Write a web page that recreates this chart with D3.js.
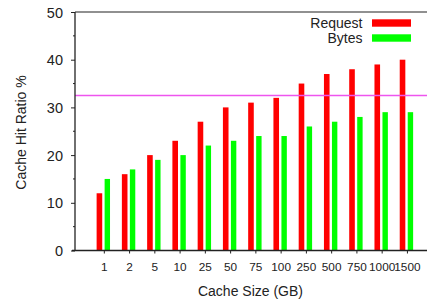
<!DOCTYPE html>
<html><head><meta charset="utf-8">
<script src="https://cdn.jsdelivr.net/npm/d3@7"></script>
<style>
html,body{margin:0;padding:0;background:#fff;}
svg{display:block;font-family:"Liberation Sans",Arial,Helvetica,sans-serif;}
</style></head>
<body>
<script>
const categories = ["1","2","5","10","25","50","75","100","250","500","750","1000","1500"];
const requestValues = [12,16,20,23,27,30,31,32,35,37,38,39,40];
const bytesValues = [15,17,19,20,22,23,24,24,26,27,28,29,29];
const yTicks = [0,10,20,30,40,50];
const yMinorTicks = [5,15,25,35,45];
const referenceLine = 32.5;
const seriesNames = ["Request","Bytes"];
const seriesColors = ["#ff0000","#00ff00"];

const W = 427, H = 300;
const svg = d3.select("body").append("svg").attr("width", W).attr("height", H);

const x = d3.scaleLinear().domain([-1.125, 12.85]).range([75, 428]);
const y = d3.scaleLinear().domain([0, 50]).range([250.5, 12]);

const axisColor = "#222";

// bars
const idx = d3.range(categories.length);
svg.append("g").selectAll("rect.req").data(idx).join("rect")
  .attr("x", i => x(i) - 6.8).attr("width", 5.6)
  .attr("y", i => y(requestValues[i])).attr("height", i => y(0) - y(requestValues[i]))
  .attr("fill", seriesColors[0]);
svg.append("g").selectAll("rect.byt").data(idx).join("rect")
  .attr("x", i => x(i) + 1.2).attr("width", 5.4)
  .attr("y", i => y(bytesValues[i])).attr("height", i => y(0) - y(bytesValues[i]))
  .attr("fill", seriesColors[1]);

// reference line
svg.append("line")
  .attr("x1", x(-1.125)).attr("x2", W)
  .attr("y1", y(referenceLine)).attr("y2", y(referenceLine))
  .attr("stroke", "#ee55ee").attr("stroke-width", 1.3);

// top border
svg.append("line").attr("x1", 75).attr("x2", W).attr("y1", y(50)).attr("y2", y(50))
  .attr("stroke", axisColor).attr("stroke-width", 1.2);

// y axis
const yAxis = d3.axisLeft(y).tickValues(yTicks).tickSize(4).tickPadding(8).tickFormat(d3.format("d"));
const gy = svg.append("g").attr("transform", "translate(75,0)").call(yAxis);
gy.select(".domain").attr("stroke", axisColor).attr("stroke-width", 1.3).attr("d", `M0,${y(0)}V${y(50)}`);
gy.selectAll(".tick line").attr("stroke", axisColor);
gy.selectAll(".tick text").attr("fill", "#222").style("font-size", "14.5px").attr("dy", "0.35em");
svg.append("g").attr("transform", "translate(75,0)").selectAll("line").data(yMinorTicks).join("line")
  .attr("x1", -2).attr("x2", 0).attr("y1", d => y(d)).attr("y2", d => y(d)).attr("stroke", axisColor);

// x axis
const xAxis = d3.axisBottom(x).tickValues(idx).tickSize(3).tickPadding(9).tickFormat(i => categories[i]);
const gx = svg.append("g").attr("transform", `translate(0,${y(0)})`).call(xAxis);
gx.select(".domain").attr("stroke", axisColor).attr("stroke-width", 1.3).attr("d", `M72,0H${W}`);
gx.selectAll(".tick").attr("transform", i => `translate(${x(i) + 0.9},0)`);
gx.selectAll(".tick line").attr("stroke", axisColor);
gx.selectAll(".tick text").attr("fill", "#222").style("font-size", "11.8px");

// axis titles
svg.append("text").attr("x", 250.5).attr("y", 295.5).attr("text-anchor", "middle")
  .style("font-size", "14px").attr("fill", "#222").text("Cache Size (GB)");
svg.append("text").attr("transform", "translate(25.5,132.5) rotate(-90)").attr("text-anchor", "middle")
  .style("font-size", "14px").attr("fill", "#222").text("Cache Hit Ratio %");

// legend
const leg = svg.append("g");
seriesNames.forEach((name, k) => {
  const yy = 23 + k * 15;
  leg.append("text").attr("x", 362.5).attr("y", yy + 4.8).attr("text-anchor", "end")
    .style("font-size", "14px").attr("fill", "#222").text(name);
  leg.append("rect").attr("x", 372).attr("y", yy - 3.7).attr("width", 39).attr("height", 7.4)
    .attr("fill", seriesColors[k]);
});
</script>
</body></html>
